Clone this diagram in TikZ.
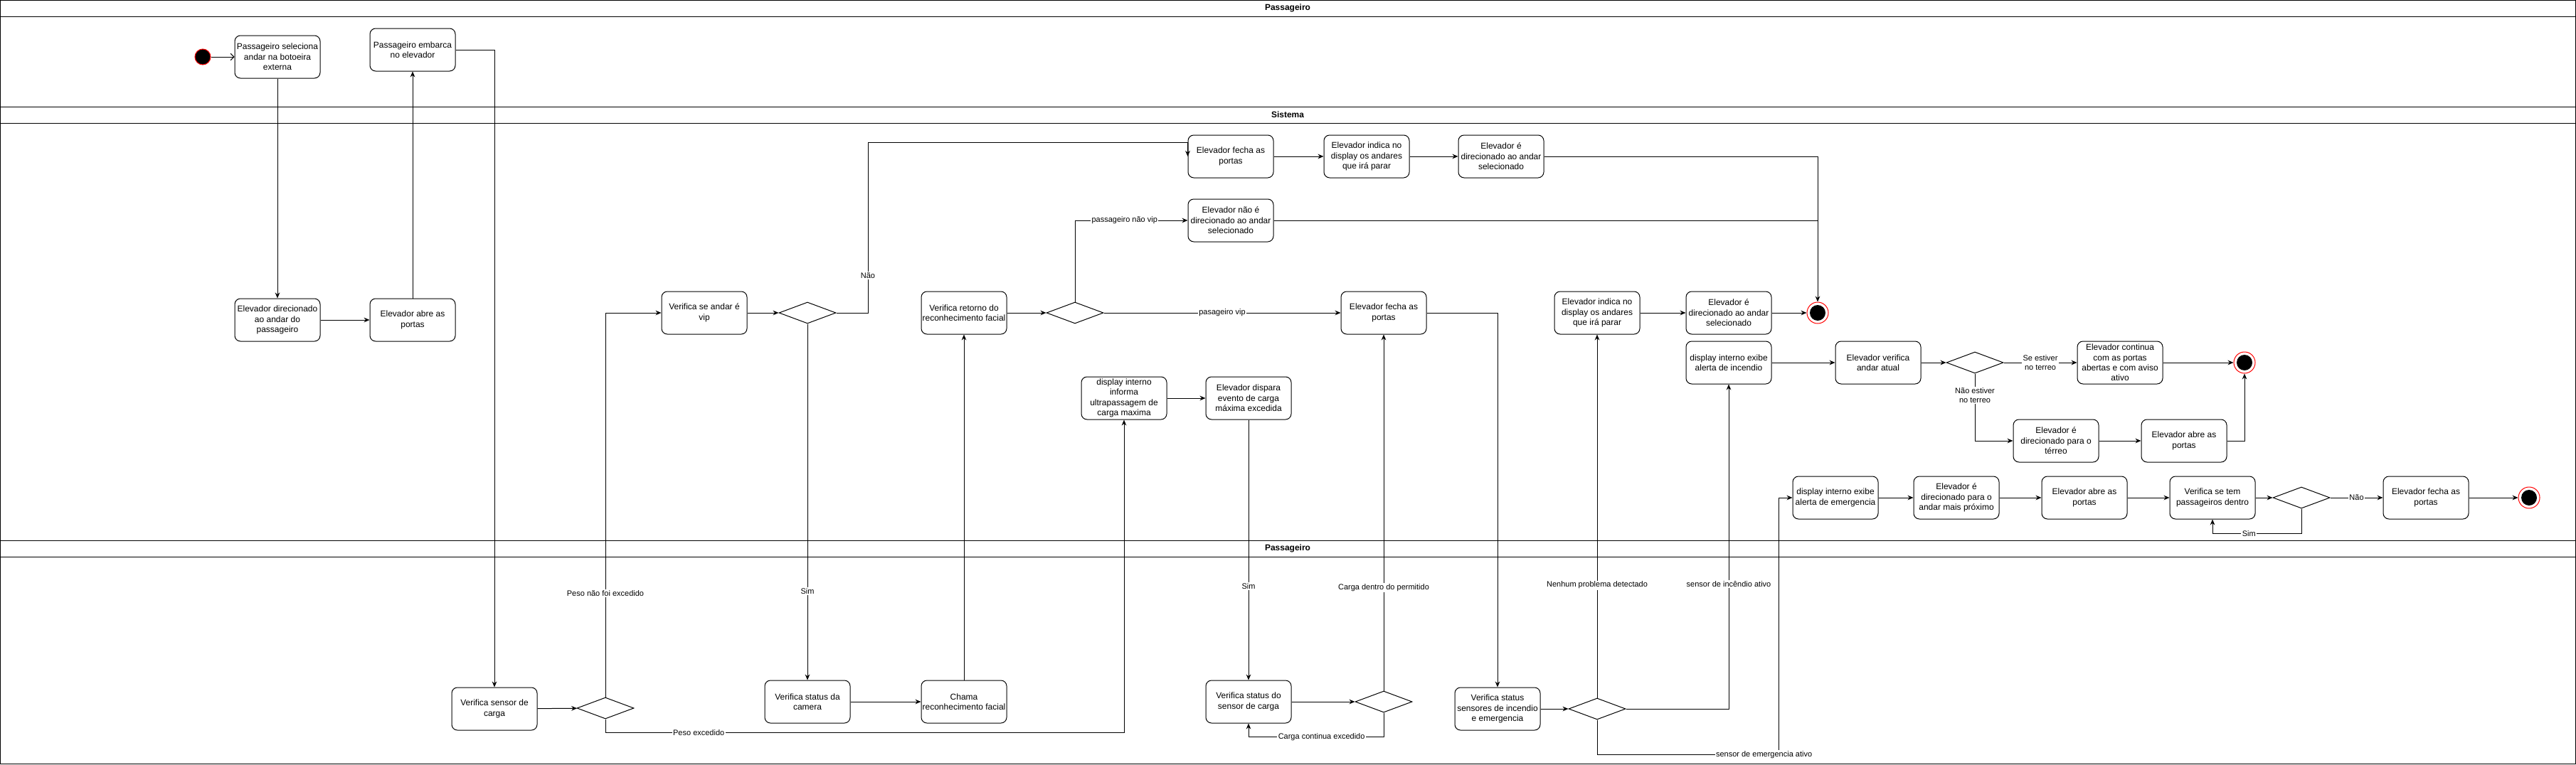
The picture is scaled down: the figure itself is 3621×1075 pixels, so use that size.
\documentclass[tikz,border=0pt]{standalone}
\usepackage{fontspec}
\setmainfont{Liberation Sans}
\usetikzlibrary{arrows.meta,shapes.geometric}

\begin{document}
\begin{tikzpicture}[x=0.75pt,y=-0.75pt,line width=0.75pt,
  acao/.style={draw,rounded corners=6pt,minimum width=90pt,minimum height=45pt,align=center,inner sep=1pt,font=\fontsize{9}{10.8}\selectfont},
  decisao/.style={draw,diamond,minimum width=60pt,minimum height=22.5pt,inner sep=0pt},
  inicial/.style={circle,draw=red,fill=black,minimum size=16.5pt,inner sep=0pt},
  final/.style={circle,draw=red,fill=white,minimum size=22.5pt,inner sep=0pt,
    path picture={\fill[black] (path picture bounding box.center) circle (8.25pt);}},
  seta/.style={-{Stealth[length=6pt,width=5pt]}},
  rotulo/.style={fill=white,inner sep=1pt,align=center,font=\fontsize{8.25}{9.9}\selectfont},
  raia/.style={font=\bfseries\fontsize{9}{10.8}\selectfont}]
\useasboundingbox (0,0) rectangle (3621,1075);
%raias
\draw (0.5,0.5) rectangle (3620,150);
\draw (0.5,23) -- (3620,23);
\draw (0.5,150) rectangle (3620,760);
\draw (0.5,173) -- (3620,173);
\draw (0.5,760) rectangle (3620,1074);
\draw (0.5,783) -- (3620,783);
\node[raia] (r1) at (1810,11.5) {Passageiro};
\node[raia] (r2) at (1810,161.5) {Sistema};
\node[raia] (r3) at (1810,771.5) {Passageiro};
%passageiro
\node[inicial] (ini) at (285,80) {};
\node[acao] (selec) at (390,80) {Passageiro seleciona\\andar na botoeira\\externa};
\node[acao] (embarca) at (580,70) {Passageiro embarca\\no elevador};
%sistema
\node[acao] (direc) at (390,450) {Elevador direcionado\\ao andar do\\passageiro};
\node[acao] (abre1) at (580,450) {Elevador abre as\\portas};
\node[acao] (vip) at (990,440) {Verifica se andar é\\vip};
\node[decisao] (dvip) at (1135,440) {};
\node[acao] (retorno) at (1355,440) {Verifica retorno do\\reconhecimento facial};
\node[decisao] (dfacial) at (1511,440) {};
\node[acao] (fecha1) at (1730,220) {Elevador fecha as\\portas};
\node[acao] (indica1) at (1921,220) {Elevador indica no\\display os andares\\que irá parar};
\node[acao] (direc1) at (2110,220) {Elevador é\\direcionado ao andar\\selecionado};
\node[acao] (naodirec) at (1730,310) {Elevador não é\\direcionado ao andar\\selecionado};
\node[acao] (fecha2) at (1945,440) {Elevador fecha as\\portas};
\node[acao] (indica2) at (2245,440) {Elevador indica no\\display os andares\\que irá parar};
\node[acao] (direc2) at (2430,440) {Elevador é\\direcionado ao andar\\selecionado};
\node[final] (fim1) at (2555,440) {};
\node[acao] (dispcarga) at (1580,560) {display interno\\informa\\ultrapassagem de\\carga maxima};
\node[acao] (dispara) at (1755,560) {Elevador dispara\\evento de carga\\máxima excedida};
\node[acao] (alerta) at (2430,510) {display interno exibe\\alerta de incendio};
\node[acao] (verandar) at (2640,510) {Elevador verifica\\andar atual};
\node[decisao] (dterreo) at (2776,510) {};
\node[acao] (continua) at (2980,510) {Elevador continua\\com as portas\\abertas e com aviso\\ativo};
\node[final] (fim2) at (3155,510) {};
\node[acao] (terreo) at (2890,620) {Elevador é\\direcionado para o\\térreo};
\node[acao] (abre2) at (3070,620) {Elevador abre as\\portas};
\node[acao] (alertaemg) at (2580,700) {display interno exibe\\alerta de emergencia};
\node[acao] (proximo) at (2750,700) {Elevador é\\direcionado para o\\andar mais próximo};
\node[acao] (abre3) at (2930,700) {Elevador abre as\\portas};
\node[acao] (passag) at (3110,700) {Verifica se tem\\passageiros dentro};
\node[decisao] (dpassag) at (3235,700) {};
\node[acao] (fecha3) at (3410,700) {Elevador fecha as\\portas};
\node[final] (fim3) at (3555,700) {};
%passageiro (baixo)
\node[acao] (sensor) at (695,997) {Verifica sensor de\\carga};
\node[decisao] (dpeso) at (851,996) {};
\node[acao] (camera) at (1135,987) {Verifica status da\\camera};
\node[acao] (chama) at (1355,987) {Chama\\reconhecimento facial};
\node[acao] (statuscarga) at (1755,987) {Verifica status do\\sensor de carga};
\node[decisao] (dcarga) at (1945,987) {};
\node[acao] (incendio) at (2105,997) {Verifica status\\sensores de incendio\\e emergencia};
\node[decisao] (dsensores) at (2245,997) {};
\coordinate (nao) at (1220,200);
%ligacoes
\draw[-{Straight Barb[length=3.5pt,width=7pt]}] (ini) -- (selec);
\draw[seta] (selec) -- (direc);
\draw[seta] (direc) -- (abre1);
\draw[seta] (abre1) -- (embarca);
\draw[seta] (embarca.east) -| (sensor.north);
\draw[seta] (sensor) -- (dpeso);
\draw[seta] (dpeso.north) -- node[rotulo,pos=0.27] {Peso não foi excedido} (dpeso.north |- vip.west) -- (vip.west);
\draw[seta] (dpeso.south) -- ++(0,19) coordinate (pe) -- node[rotulo,pos=0.18] {Peso excedido} (pe -| dispcarga.south) -- (dispcarga.south);
\draw[seta] (vip) -- (dvip);
\draw[seta] (dvip.south) -- node[rotulo,pos=0.75] {Sim} (camera.north);
\draw[seta] (dvip.east) -- (dvip.east -| nao) -- node[rotulo,pos=0.22] {Não} (nao) -- (nao -| fecha1.west) -- (fecha1.west);
\draw[seta] (camera) -- (chama);
\draw[seta] (chama) -- (retorno);
\draw[seta] (retorno) -- (dfacial);
\draw[seta] (dfacial.north) |- node[rotulo,pos=0.72] {passageiro não vip} (naodirec.west);
\draw[seta] (dfacial.east) -- node[rotulo] {pasageiro vip} (fecha2.west);
\draw[seta] (fecha1) -- (indica1);
\draw[seta] (indica1) -- (direc1);
\draw[seta] (direc1.east) -| (fim1.north);
\draw (naodirec.east) -- (naodirec.east -| fim1);
\draw[seta] (fecha2.east) -| (incendio.north);
\draw[seta] (dispcarga) -- (dispara);
\draw[seta] (dispara) -- node[rotulo,pos=0.64] {Sim} (statuscarga);
\draw[seta] (statuscarga) -- (dcarga);
\draw[seta] (dcarga.north) -- node[rotulo,pos=0.29] {Carga dentro do permitido} (fecha2.south);
\draw[seta] (dcarga.south) -- ++(0,34) coordinate (cc) -- node[rotulo,pos=0.46] {Carga continua excedido} (cc -| statuscarga.south) -- (statuscarga.south);
\draw[seta] (incendio) -- (dsensores);
\draw[seta] (dsensores.north) -- node[rotulo,pos=0.31] {Nenhum problema detectado} (indica2.south);
\draw[seta] (indica2) -- (direc2);
\draw[seta] (direc2) -- (fim1);
\draw[seta] (dsensores.east) -- (dsensores.east -| alerta.south) -- node[rotulo,pos=0.385] {sensor de incêndio ativo} (alerta.south);
\draw[seta] (dsensores.south) -- ++(0,49) coordinate (se) -- node[rotulo,pos=0.92] {sensor de emergencia ativo} ++(255,0) |- (alertaemg.west);
\draw[seta] (alerta) -- (verandar);
\draw[seta] (verandar) -- (dterreo);
\draw[seta] (dterreo) -- node[rotulo] {Se estiver\\no terreo} (continua);
\draw[seta] (continua) -- (fim2);
\draw[seta] (dterreo.south) |- node[rotulo,pos=0.16] {Não estiver\\no terreo} (terreo.west);
\draw[seta] (terreo) -- (abre2);
\draw[seta] (abre2.east) -| (fim2.south);
\draw[seta] (alertaemg) -- (proximo);
\draw[seta] (proximo) -- (abre3);
\draw[seta] (abre3) -- (passag);
\draw[seta] (passag) -- (dpassag);
\draw[seta] (dpassag) -- node[rotulo] {Não} (fecha3);
\draw[seta] (fecha3) -- (fim3);
\draw[seta] (dpassag.south) -- ++(0,35) coordinate (ps) -- node[rotulo,pos=0.59] {Sim} (ps -| passag.south) -- (passag.south);
\end{tikzpicture}
\end{document}
